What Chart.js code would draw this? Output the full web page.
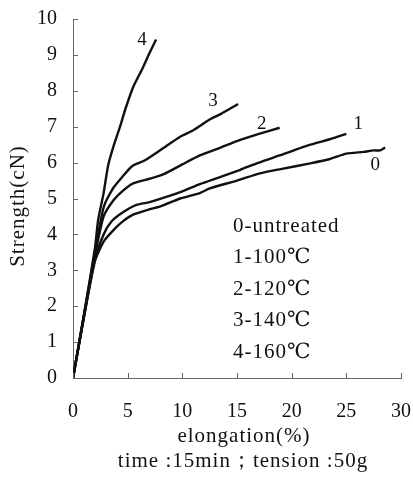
<!DOCTYPE html>
<html>
<head>
<meta charset="utf-8">
<script src="https://cdn.jsdelivr.net/npm/chart.js@4.4.1/dist/chart.umd.min.js"></script>
<style>
  html, body { margin: 0; padding: 0; background: #fff; }
</style>
</head>
<body>
<canvas id="myChart" width="413" height="480"></canvas>
<script>
// values (elongation %, strength cN)
let curveNames = ["0", "1", "2", "3", "4"];
let legendLines = ["0-untreated", "1-100℃", "2-120℃", "3-140℃", "4-160℃"];

let elong0 = [0, 1, 2, 2.8, 3.7, 4.5, 5.5, 7, 8, 9.8, 11.6, 12.5, 15, 17.1, 19, 21.7, 23.5, 25, 26.6, 27.5, 28.1, 28.55];
let strength0 = [0, 1.7, 3.25, 3.8, 4.12, 4.35, 4.55, 4.7, 4.78, 5.0, 5.15, 5.28, 5.5, 5.7, 5.82, 5.98, 6.1, 6.25, 6.3, 6.34, 6.34, 6.42];

let elong1 = [0, 1, 2, 2.8, 3.5, 4.5, 5.8, 7, 8.6, 10, 11.6, 13.5, 15.3, 17, 18.9, 21.7, 23.5, 25];
let strength1 = [0, 1.7, 3.3, 4.0, 4.35, 4.6, 4.82, 4.9, 5.05, 5.2, 5.4, 5.6, 5.8, 6.0, 6.2, 6.5, 6.65, 6.8];

let elong2 = [0, 1, 2, 2.8, 3.7, 4.5, 5.5, 7, 8.3, 10, 11.6, 13.5, 15.3, 17, 18.9];
let strength2 = [0, 1.75, 3.4, 4.5, 4.95, 5.2, 5.42, 5.55, 5.68, 5.95, 6.2, 6.42, 6.63, 6.8, 6.97];

let elong3 = [0, 1, 2, 2.8, 3.7, 4.5, 5.4, 6.5, 8, 9.8, 11, 12.5, 13.5, 15.1];
let strength3 = [0, 1.75, 3.5, 4.75, 5.3, 5.6, 5.9, 6.05, 6.35, 6.72, 6.9, 7.2, 7.35, 7.63];

let elong4 = [0, 1, 2, 2.3, 2.8, 3.2, 3.7, 4.3, 4.8, 5.5, 6.4, 7.0, 7.6];
let strength4 = [0, 1.75, 3.6, 4.4, 5.15, 5.9, 6.45, 7.0, 7.5, 8.1, 8.65, 9.05, 9.43];

let xTitle = "elongation(%)";
let subTitle = "time :15min；tension :50g";
let yTitle = "Strength(cN)";

let allX = [elong0, elong1, elong2, elong3, elong4];
let allY = [strength0, strength1, strength2, strength3, strength4];

let serif = "'Liberation Serif', 'DejaVu Serif', serif";

// pixel offsets of the curve numbers from each curve's last point
let numberOffsets = [[-10, 17], [12, -10], [-18, -4], [-25, -3], [-14, 1]];

let datasets = allX.map((xs, i) => ({
    label: curveNames[i],
    data: xs.map((x, j) => ({ x: x, y: allY[i][j] })),
    showLine: true,
    borderColor: "#111",
    borderWidth: 2.4,
    pointRadius: 0,
    tension: 0.2,
    fill: false
}));

// draws the inner tick marks and all the extra text
let textPlugin = {
    id: "textPlugin",
    afterDraw(chart) {
        let c = chart.ctx;
        let xs = chart.scales.x, ys = chart.scales.y;
        let area = chart.chartArea;
        c.save();
        c.strokeStyle = "#666";
        c.lineWidth = 1;
        xs.ticks.forEach(t => {
            let px = Math.round(xs.getPixelForValue(t.value)) + 0.5;
            c.beginPath(); c.moveTo(px, area.bottom); c.lineTo(px, area.bottom - 5); c.stroke();
        });
        ys.ticks.forEach(t => {
            let py = Math.round(ys.getPixelForValue(t.value)) + 0.5;
            c.beginPath(); c.moveTo(area.left, py); c.lineTo(area.left + 5, py); c.stroke();
        });

        c.fillStyle = "#111";
        c.textBaseline = "middle";
        c.textAlign = "center";
        c.font = "19px " + serif;
        allX.forEach((xArr, i) => {
            let last = xArr.length - 1;
            let px = xs.getPixelForValue(xArr[last]) + numberOffsets[i][0];
            let py = ys.getPixelForValue(allY[i][last]) + numberOffsets[i][1];
            c.fillText(curveNames[i], px, py);
        });

        c.textAlign = "left";
        c.font = "21px " + serif;
        c.letterSpacing = "1px";
        legendLines.forEach((s, i) => {
            c.fillText(s, 233, 226 + i * 31.6);
        });

        c.textAlign = "center";
        c.textBaseline = "alphabetic";
        c.font = "21px " + serif;
        c.letterSpacing = "1px";
        c.fillText(xTitle, 244, 442);
        c.fillText(subTitle, 243, 467);

        c.translate(24, 206);
        c.rotate(-Math.PI / 2);
        c.fillText(yTitle, 0, 0);
        c.restore();
    }
};

// fixed sizes for the axes so the plot area sits where it does in the picture
function fixScale(size, isX) {
    return (scale) => {
        if (isX) scale.height = size; else scale.width = size;
        scale.paddingTop = 0;
        scale.paddingBottom = 0;
        scale.paddingLeft = 0;
        scale.paddingRight = 0;
    };
}

let ctx = document.getElementById("myChart").getContext("2d");
let myChart = new Chart(ctx, {
    type: "scatter",
    data: { datasets: datasets },
    options: {
        responsive: false,
        animation: false,
        layout: { padding: { top: 19, right: 12, left: 0, bottom: 0 } },
        plugins: {
            legend: { display: false },
            tooltip: { enabled: false }
        },
        scales: {
            x: {
                type: "linear",
                min: 0,
                max: 30,
                ticks: { stepSize: 5, color: "#111", font: { family: serif, size: 20 }, padding: 22, maxRotation: 0 },
                grid: { display: false, drawTicks: false },
                border: { display: true, color: "#666", width: 1 },
                afterFit: fixScale(102, true)
            },
            y: {
                type: "linear",
                min: 0,
                max: 10,
                ticks: { stepSize: 1, color: "#111", font: { family: serif, size: 20 }, padding: 16 },
                grid: { display: false, drawTicks: false },
                border: { display: true, color: "#666", width: 1 },
                afterFit: fixScale(73, false)
            }
        }
    },
    plugins: [textPlugin]
});
</script>
</body>
</html>
